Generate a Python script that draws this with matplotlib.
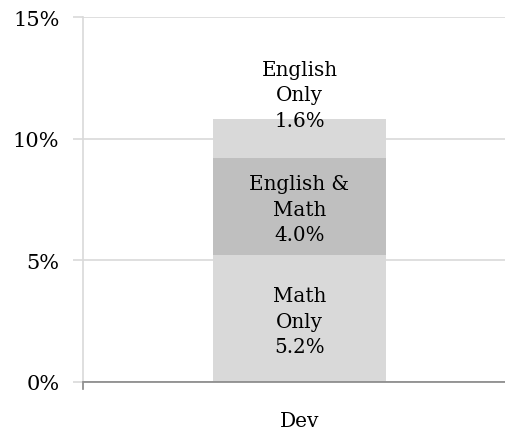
import matplotlib
matplotlib.use("Agg")
import matplotlib.pyplot as plt
from matplotlib.ticker import FuncFormatter

categories = ["Dev"]
math_only = [5.2]
english_math = [4.0]
english_only = [1.6]
series_names = ["Math\nOnly", "English &\nMath", "English\nOnly"]
colors = ["#d9d9d9", "#bfbfbf", "#d9d9d9"]

plt.rcParams['font.family'] = ['DejaVu Serif']

fig = plt.figure(figsize=(5.06, 4.39), dpi=100)
ax = fig.add_axes([83 / 506, 56 / 439, 433 / 506, 365 / 439])

x = range(len(categories))
bottom = [0] * len(categories)
for name, vals, col in zip(series_names, [math_only, english_math, english_only], colors):
    ax.bar(x, vals, width=0.4, bottom=bottom, color=col, zorder=2)
    for i, v in enumerate(vals):
        # top segment's label sits above the bar, the others are centred
        if name.startswith("English\n"):
            y = bottom[i] + v + 1.0
        else:
            y = bottom[i] + v / 2 - 0.1
        ax.text(i, y, "%s\n%.1f%%" % (name, v), ha="center", va="center",
                fontsize=14.3, linespacing=1.45, zorder=3)
    bottom = [b + v for b, v in zip(bottom, vals)]

ax.set_xlim(-0.5, 0.5)
ax.set_ylim(0, 15)
ax.set_yticks([0, 5, 10, 15])
ax.yaxis.set_major_formatter(FuncFormatter(lambda v, p: "%d%%" % v))
ax.set_xticks(list(x))
ax.set_xticklabels(categories)
ax.tick_params(axis="y", labelsize=15, length=7, color="#d9d9d9", width=1.2, pad=10)
ax.tick_params(axis="x", labelsize=14.5, length=0, pad=21)
ax.grid(axis="y", color="#d9d9d9", linewidth=1.2, zorder=0)
for s in ["top", "right"]:
    ax.spines[s].set_visible(False)
ax.spines["left"].set_color("#d9d9d9")
ax.spines["left"].set_linewidth(1.2)
ax.spines["bottom"].set_color("#868686")
ax.spines["bottom"].set_linewidth(1.2)
ax.spines["bottom"].set_zorder(4)
ax.plot([0, 0], [0, -0.02], transform=ax.transAxes, color="#868686",
        linewidth=1.2, clip_on=False)

fig.savefig("out.png", dpi=100)
